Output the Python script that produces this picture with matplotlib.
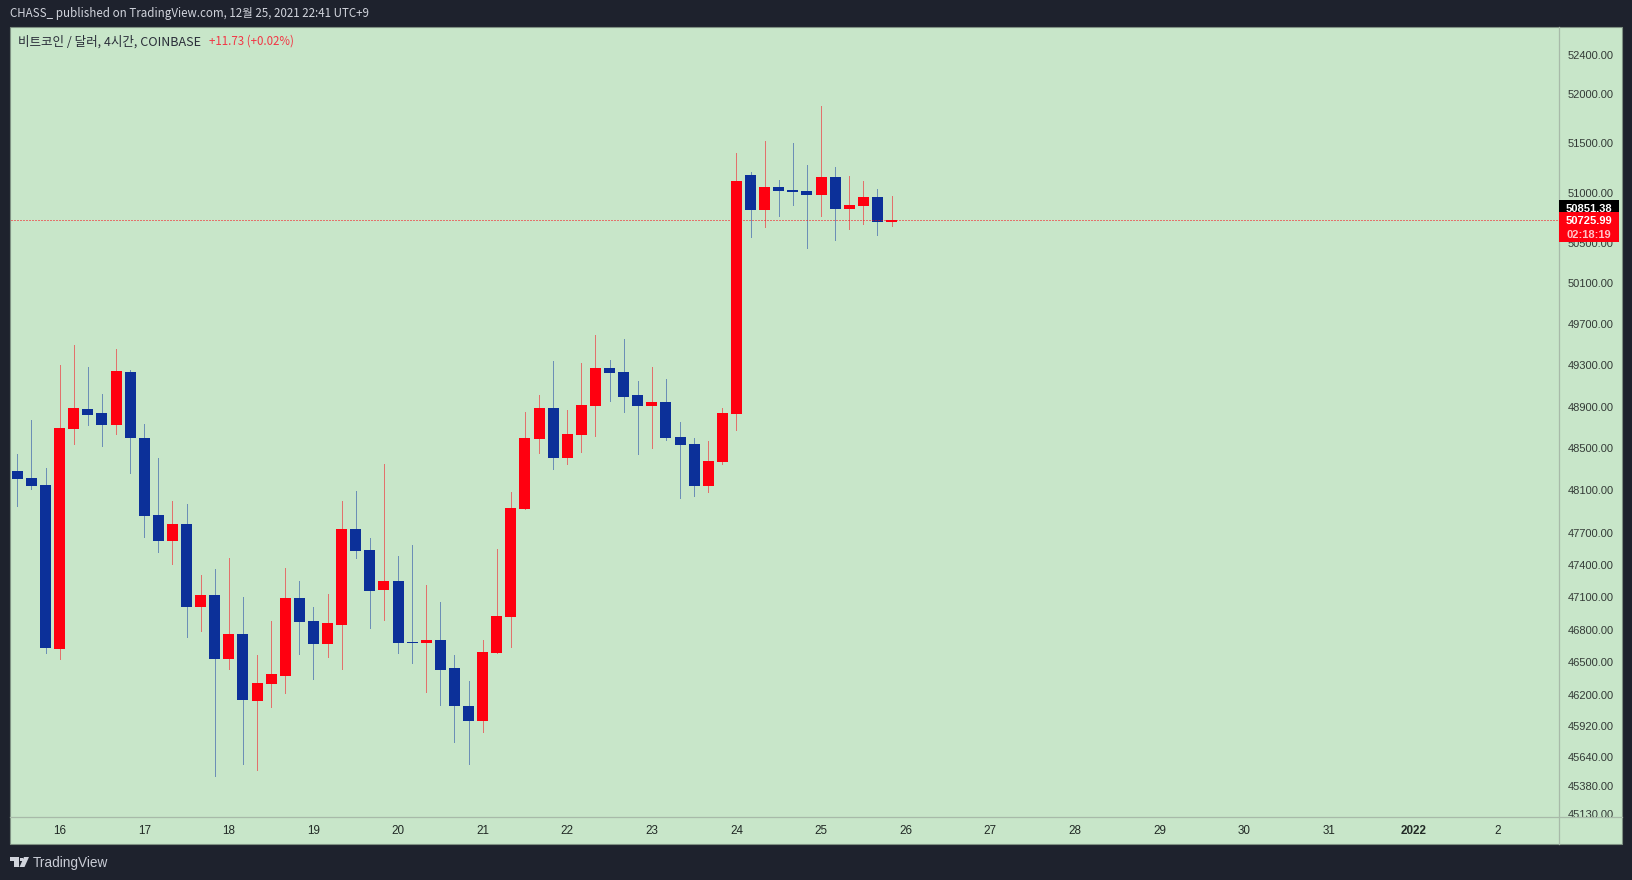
import math
import os
import matplotlib
matplotlib.use("Agg")
import matplotlib.pyplot as plt
from matplotlib.font_manager import FontProperties
from matplotlib.patches import Rectangle, Polygon
from matplotlib.lines import Line2D
from matplotlib.transforms import Affine2D

plt.rcParams["font.family"] = ["Liberation Sans"]
CJK_PATH = "/usr/share/fonts/opentype/noto/NotoSansCJK-Regular.ttc"


def kr(size):
    if os.path.exists(CJK_PATH):
        return FontProperties(fname=CJK_PATH, size=size)
    return FontProperties(family="Noto Sans CJK KR", size=size)


opens = [48284,48218,48151,46623,48685,48877,48838,48723,49234,48599,47868,47623,47783,47009,47120,46532,46761,46149,46304,46376,
         47093,46880,46669,46843,47736,47539,47167,47250,46687,46678,46706,46449,46104,45969,46586,46917,47924,48589,48887,48408,
         48627,48906,49273,49234,49012,48906,48944,48608,48541,48142,48370,48829,51181,50830,51060,51030,51020,50980,51161,50840,
         50870,50960,50714]
closes = [48208,48142,46632,48694,48887,48819,48723,49244,48599,47858,47623,47783,47009,47120,46532,46761,46158,46313,46395,47093,
          46871,46669,46862,47736,47530,47158,47250,46678,46678,46706,46431,46104,45969,46596,46926,47934,48599,48887,48408,48637,
          48915,49273,49224,48992,48906,48944,48599,48532,48142,48379,48838,51121,50830,51060,51020,51010,50980,51161,50840,50880,
          50960,50710,50726]
highs = [48446,48771,48313,49302,49497,49283,49021,49458,49254,48733,48408,48000,47971,47306,47363,47465,47102,46568,46880,47371,
         47250,47009,47130,48000,48094,47652,48351,47483,47586,47213,47056,46568,46331,46706,47549,48085,48848,49012,49341,48867,
         49322,49594,49351,49555,49147,49283,49166,48752,48599,48570,48887,51403,51211,51525,51131,51504,51282,51881,51261,51171,
         51121,51040,50970]
lows = [47953,48113,46586,46532,48541,48723,48522,48637,48265,47661,47521,47409,46733,46788,45466,46440,45573,45520,46095,46222,
        46577,46349,46550,46440,47465,46816,46890,46586,46495,46231,46113,45779,45573,45869,46586,46641,47924,48455,48303,48351,
        48465,48618,48954,48848,48446,48503,48580,48028,48047,48085,48351,48675,50560,50660,50770,50880,50451,50770,50530,50640,
        50690,50580,50670]
price_ticks = [52400,52000,51500,51000,50500,50100,49700,49300,48900,48500,48100,47700,47400,47100,46800,46500,46200,45920,45640,45380,45130]
day_labels = ["16","17","18","19","20","21","22","23","24","25","26","27","28","29","30","31","2022","2"]
day_index = [3,9,15,21,27,33,39,45,51,57,63,69,75,81,87,93,99,105]
last_price = 50725.99
prev_close = 50851.38

W, H = 1633, 880
DARK = "#1e222d"
PANEL = "#c8e6c9"
LINE = "#a8baa9"
UP, DOWN = "#ff0010", "#0c3099"
UP_W, DOWN_W = "#e2716c", "#6c8fb6"
L, R, T, B = 11, 1559, 27, 817
P_TOP, P_BOT = 52694.4, 45104.0

fig = plt.figure(figsize=(W/100, H/100), dpi=100, facecolor=DARK)
PX = Affine2D().scale(1/W, -1/H).translate(0, 1) + fig.transFigure

fig.add_artist(Rectangle((10, 27), 1612, 817, transform=PX, facecolor=PANEL, edgecolor="#7f9183", lw=0.8, zorder=-1))

ax = fig.add_axes([L/W, 1-B/H, (R-L)/W, (B-T)/H], facecolor="none")
ax.set_yscale("log")
ax.set_ylim(P_BOT, P_TOP)
ax.set_xlim(-0.447, 109.34)
for s in ax.spines.values():
    s.set_visible(False)

idx = list(range(len(opens)))
wick_colors = [UP_W if c >= o else DOWN_W for o, c in zip(opens, closes)]
body_colors = [UP if c >= o else DOWN for o, c in zip(opens, closes)]
ax.vlines(idx, lows, highs, colors=wick_colors, lw=0.68, antialiaseds=False, zorder=1)
ax.bar(idx, [abs(c-o) for o, c in zip(opens, closes)], bottom=[min(o, c) for o, c in zip(opens, closes)],
       width=0.78, color=body_colors, linewidth=0, antialiased=False, zorder=2)
ax.axhline(last_price, color="#ff0010", lw=0.72, ls=(0, (1, 2)), dash_capstyle="butt", zorder=3)

ax.yaxis.tick_right()
ax.set_yticks(price_ticks, labels=[f"{p:.2f}" for p in price_ticks])
ax.set_yticks([], minor=True)
ax.tick_params(axis="y", which="both", length=0, pad=6.5, labelsize=8, labelcolor="#333a36")
ax.set_xticks(day_index, labels=day_labels)
ax.tick_params(axis="x", length=0, pad=5.5, labelsize=8.4, labelcolor="#222a26")
for lbl in ax.get_xticklabels():
    if lbl.get_text() == "2022":
        lbl.set_fontweight("bold")


def py(p):
    return T + math.log(P_TOP/p)/math.log(P_TOP/P_BOT)*(B-T)


# cut the lowest price label at the axis line, as the reference does
fig.add_artist(Rectangle((1560, 817.5), 61, 14, transform=PX, facecolor=PANEL, edgecolor="none", zorder=4))
fig.add_artist(Line2D([10, 1622], [817, 817], transform=PX, color=LINE, lw=0.9, zorder=4.5))
fig.add_artist(Line2D([1559.5, 1559.5], [27, 844], transform=PX, color=LINE, lw=0.9, zorder=4.5))

# last price tags
y_prev, y_last = py(prev_close), py(last_price)
fig.add_artist(Rectangle((1559, y_prev-8), 60, 16, transform=PX, facecolor="#000000", edgecolor="none", zorder=5))
fig.text(1589, y_prev+1, f"{prev_close:.2f}", transform=PX, color="white", fontsize=8, fontweight="bold",
         ha="center", va="center", zorder=6)
fig.add_artist(Rectangle((1559, y_last-8.5), 60, 30, transform=PX, facecolor="#ff0010", edgecolor="none", zorder=7))
fig.text(1589, y_last+1, f"{last_price:.2f}", transform=PX, color="white", fontsize=8, fontweight="bold",
         ha="center", va="center", zorder=8)
fig.text(1589, y_last+14.5, "02:18:19", transform=PX, color="#ffc4c8", fontsize=8, fontweight="bold",
         ha="center", va="center", zorder=8)

# header, legend, footer
fig.text(10, 14, "CHASS_ published on TradingView.com, 12월 25, 2021 22:41 UTC+9", transform=PX, fontproperties=kr(8.33),
         color="#d1d4dc", ha="left", va="center")
fig.text(18, 41.5, "비트코인 / 달러, 4시간, COINBASE", transform=PX, fontproperties=kr(9.05), color="#2a2e39", ha="left", va="center")
fig.text(209.5, 41.5, "+11.73 (+0.02%)", transform=PX, fontproperties=kr(8.25), color="#f23645", ha="left", va="center")

LOGO = "#d1d4dc"
for pts in ([(10, 857), (19.5, 857), (19.5, 867), (14, 867), (14, 861), (10, 861)],
            [(24, 857), (29, 857), (24.5, 867), (19.5, 867)]):
    fig.add_artist(Polygon(pts, transform=PX, facecolor=LOGO, edgecolor="none", zorder=3))
fig.add_artist(Rectangle((20.5, 858), 2.4, 2.6, transform=PX, facecolor=LOGO, edgecolor="none", zorder=3))
fig.text(33, 862.5, "TradingView", transform=PX, color="#c9ccd5", fontsize=9.8, ha="left", va="center")

fig.savefig("out.png", dpi=100, facecolor=DARK)
